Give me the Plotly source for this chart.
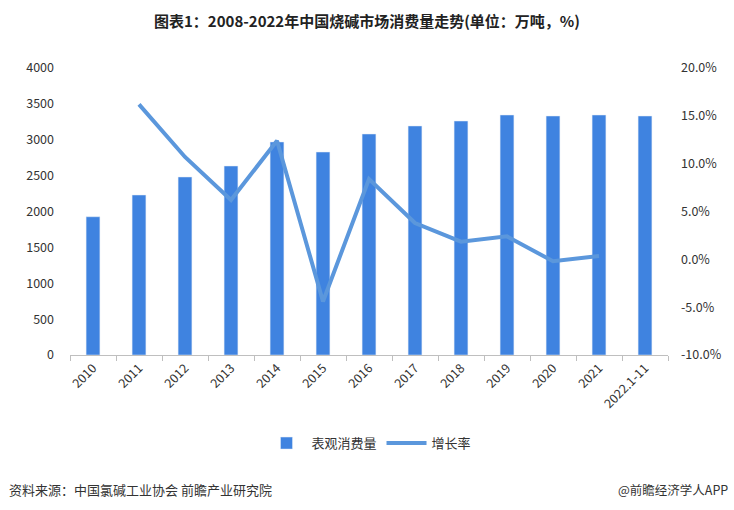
import plotly.graph_objects as go

categories = ["2010", "2011", "2012", "2013", "2014", "2015", "2016", "2017",
              "2018", "2019", "2020", "2021", "2022.1-11"]
consumption = [1927, 2230, 2481, 2634, 2969, 2829, 3080, 3192, 3261, 3345, 3331, 3345, 3331]
growth = [None, 16.2, 10.7, 6.2, 12.4, -4.4, 8.4, 3.8, 1.85, 2.4, -0.2, 0.35, None]

left_ticks = [0, 500, 1000, 1500, 2000, 2500, 3000, 3500, 4000]
right_ticks = [-10, -5, 0, 5, 10, 15, 20]
right_labels = [f"{v:.1f}%" for v in right_ticks]

FONT = "Noto Sans CJK SC, Microsoft YaHei, sans-serif"

fig = go.Figure()
fig.add_trace(go.Bar(x=categories, y=consumption, name="表观消费量",
                     marker_color="#3f83e0", width=0.3))
fig.add_trace(go.Scatter(x=categories, y=growth, name="增长率", yaxis="y2",
                         mode="lines", line=dict(color="#5b97dc", width=4),
                         connectgaps=False))

fig.update_layout(
    width=734, height=510,
    margin=dict(l=70, r=66, t=68, b=155, autoexpand=False),
    paper_bgcolor="white", plot_bgcolor="white",
    font=dict(family=FONT, size=12, color="#333333"),
    title=dict(text="<b>图表1：2008-2022年中国烧碱市场消费量走势(单位：万吨，%)</b>",
               x=0.5, xanchor="center", y=0.957, yanchor="middle",
               font=dict(size=15, color="#222222", family=FONT)),
    xaxis=dict(type="category", showline=True, linecolor="#bfbfbf", linewidth=1,
               ticks="outside", tickson="boundaries", ticklen=5, tickcolor="#bfbfbf",
               tickangle=-45, tickfont=dict(size=12.5, color="#333333"), showgrid=False),
    yaxis=dict(range=[0, 4000], tickvals=left_ticks, showgrid=False, zeroline=False,
               showline=False, tickfont=dict(size=12.5, color="#333333"), ticks="",
               ticklabelstandoff=15),
    yaxis2=dict(range=[-10, 20], overlaying="y", side="right", tickvals=right_ticks,
                ticktext=right_labels, showgrid=False, zeroline=False, showline=False,
                tickfont=dict(size=12.5, color="#333333"), ticklabelstandoff=12),
    legend=dict(orientation="h", x=0.5, xanchor="center", y=-0.307, yanchor="middle",
                font=dict(size=13, color="#333333"), itemwidth=40),
    bargap=0.7,
    showlegend=True,
)

fig.add_annotation(text="资料来源：中国氯碱工业协会 前瞻产业研究院", xref="paper", yref="paper",
                   x=-0.106, y=-0.47, xanchor="left", yanchor="middle", showarrow=False,
                   font=dict(size=13, color="#333333"))
fig.add_annotation(text="@前瞻经济学人APP", xref="paper", yref="paper",
                   x=1.104, y=-0.47, xanchor="right", yanchor="middle", showarrow=False,
                   font=dict(size=12.5, color="#333333"))

fig.write_html("out.html", config={"displayModeBar": False},
               post_script="document.body.style.margin='0';")
